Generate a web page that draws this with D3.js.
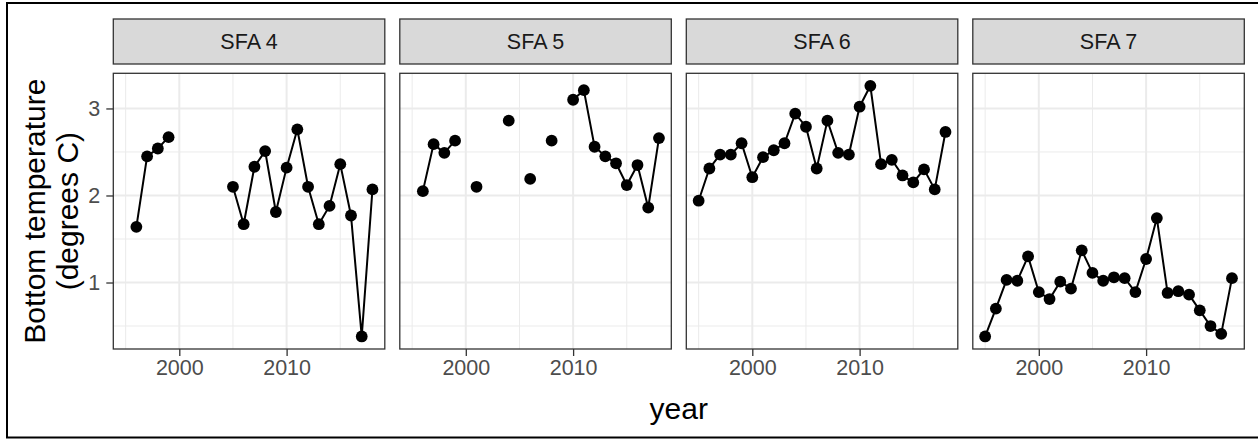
<!DOCTYPE html>
<html>
<head>
<meta charset="utf-8">
<script src="https://cdn.jsdelivr.net/npm/d3@7"></script>
<style>
  body { margin: 0; background: #fff; }
  svg { display: block; font-family: 'Liberation Sans', Arial, sans-serif; }
</style>
</head>
<body>
<div id="chart"></div>
<script>
// Bottom temperature by year, one panel per SFA
const years = [1995, 1996, 1997, 1998, 1999, 2000, 2001, 2002, 2003, 2004, 2005, 2006,
  2007, 2008, 2009, 2010, 2011, 2012, 2013, 2014, 2015, 2016, 2017, 2018]

const sfa4 = [null, 1.64, 2.45, 2.54, 2.67, null, null, null, null, null, 2.10, 1.67,
  2.33, 2.51, 1.81, 2.32, 2.76, 2.10, 1.67, 1.88, 2.36, 1.77, 0.38, 2.07]
const sfa5 = [null, 2.05, 2.59, 2.49, 2.63, null, 2.10, null, null, 2.86, null, 2.19,
  null, 2.63, null, 3.10, 3.21, 2.56, 2.45, 2.37, 2.12, 2.35, 1.86, 2.66]
const sfa6 = [1.94, 2.31, 2.47, 2.47, 2.60, 2.21, 2.44, 2.52, 2.60, 2.94, 2.79, 2.31,
  2.86, 2.49, 2.47, 3.02, 3.26, 2.36, 2.41, 2.23, 2.15, 2.30, 2.07, 2.73]
const sfa7 = [0.38, 0.70, 1.03, 1.02, 1.30, 0.89, 0.81, 1.01, 0.93, 1.37, 1.11, 1.02,
  1.06, 1.05, 0.89, 1.27, 1.74, 0.88, 0.90, 0.86, 0.68, 0.50, 0.41, 1.05]

const panelNames = ['SFA 4', 'SFA 5', 'SFA 6', 'SFA 7']
const panelValues = [sfa4, sfa5, sfa6, sfa7]
const xTicks = [2000, 2010]
const yTicks = [1, 2, 3]
const xMinor = [1995, 2005, 2015]
const yMinor = [0.5, 1.5, 2.5]

const W = 1258
const H = 439
const PANEL = { left: 113.3, top: 73.3, width: 271.5, height: 275.7, gap: 15 }
const STRIP = { top: 19, height: 45 }
const TICK_FONT = 21.5
const TITLE_FONT = 30

const svg = d3.select('#chart').append('svg')
  .attr('width', W)
  .attr('height', H)

// outer border of the plot image
svg.append('rect')
  .attr('x', 7).attr('y', 3)
  .attr('width', W + 10).attr('height', 434.5)
  .attr('fill', '#fff')
  .attr('stroke', '#000')
  .attr('stroke-width', 2)

// ggplot style 5% expansion, same scales in all panels
const allVals = panelValues.flat().filter(v => v != null)
const yMin = d3.min(allVals)
const yMax = d3.max(allVals)
const yPad = (yMax - yMin) * 0.05
const xPad = (d3.max(years) - d3.min(years)) * 0.05

const x = d3.scaleLinear()
  .domain([d3.min(years) - xPad, d3.max(years) + xPad])
  .range([0, PANEL.width])

const y = d3.scaleLinear()
  .domain([yMin - yPad, yMax + yPad])
  .range([PANEL.height, 0])

const line = d3.line()
  .defined(d => d.v != null)
  .x(d => x(d.year))
  .y(d => y(d.v))

panelNames.forEach((name, i) => {
  const left = PANEL.left + i * (PANEL.width + PANEL.gap)
  const data = years.map((yr, j) => ({ year: yr, v: panelValues[i][j] }))

  // strip
  const strip = svg.append('g').attr('transform', `translate(${left},${STRIP.top})`)
  strip.append('rect')
    .attr('width', PANEL.width)
    .attr('height', STRIP.height)
    .attr('fill', '#d9d9d9')
    .attr('stroke', '#333')
    .attr('stroke-width', 1.3)
  strip.append('text')
    .attr('x', PANEL.width / 2)
    .attr('y', STRIP.height / 2)
    .attr('dy', '0.36em')
    .attr('text-anchor', 'middle')
    .attr('font-size', TICK_FONT)
    .attr('fill', '#1a1a1a')
    .text(name)

  const g = svg.append('g').attr('transform', `translate(${left},${PANEL.top})`)

  g.append('rect')
    .attr('width', PANEL.width)
    .attr('height', PANEL.height)
    .attr('fill', '#fff')

  // minor grid
  g.selectAll('.xminor').data(xMinor).join('line')
    .attr('x1', d => x(d)).attr('x2', d => x(d))
    .attr('y1', 0).attr('y2', PANEL.height)
    .attr('stroke', '#ebebeb').attr('stroke-width', 1)
  g.selectAll('.yminor').data(yMinor).join('line')
    .attr('x1', 0).attr('x2', PANEL.width)
    .attr('y1', d => y(d)).attr('y2', d => y(d))
    .attr('stroke', '#ebebeb').attr('stroke-width', 1)

  // major grid
  g.selectAll('.xmajor').data(xTicks).join('line')
    .attr('x1', d => x(d)).attr('x2', d => x(d))
    .attr('y1', 0).attr('y2', PANEL.height)
    .attr('stroke', '#ebebeb').attr('stroke-width', 2)
  g.selectAll('.ymajor').data(yTicks).join('line')
    .attr('x1', 0).attr('x2', PANEL.width)
    .attr('y1', d => y(d)).attr('y2', d => y(d))
    .attr('stroke', '#ebebeb').attr('stroke-width', 2)

  g.append('path')
    .datum(data)
    .attr('d', line)
    .attr('fill', 'none')
    .attr('stroke', '#000')
    .attr('stroke-width', 2)

  g.selectAll('circle')
    .data(data.filter(d => d.v != null))
    .join('circle')
    .attr('cx', d => x(d.year))
    .attr('cy', d => y(d.v))
    .attr('r', 5.9)
    .attr('fill', '#000')

  g.append('rect')
    .attr('width', PANEL.width)
    .attr('height', PANEL.height)
    .attr('fill', 'none')
    .attr('stroke', '#333')
    .attr('stroke-width', 1.3)

  // x axis on every panel
  const xAxis = g.append('g')
    .attr('transform', `translate(0,${PANEL.height})`)
    .call(d3.axisBottom(x).tickValues(xTicks).tickFormat(d3.format('d')).tickSize(7).tickPadding(4))
  styleAxis(xAxis)

  // y axis only on the first one
  if (i === 0) {
    const yAxis = g.append('g')
      .call(d3.axisLeft(y).tickValues(yTicks).tickFormat(d3.format('d')).tickSize(7).tickPadding(6))
    styleAxis(yAxis)
  }
})

function styleAxis (sel) {
  sel.select('.domain').remove()
  sel.selectAll('.tick line').attr('stroke', '#333').attr('stroke-width', 1.3)
  sel.selectAll('.tick text')
    .attr('fill', '#4d4d4d')
    .attr('font-size', TICK_FONT)
    .attr('font-family', 'Liberation Sans, Arial, sans-serif')
}

// axis titles
const panelsRight = PANEL.left + 4 * PANEL.width + 3 * PANEL.gap
svg.append('text')
  .attr('x', (PANEL.left + panelsRight) / 2)
  .attr('y', 419)
  .attr('text-anchor', 'middle')
  .attr('font-size', TITLE_FONT)
  .attr('fill', '#000')
  .text('year')

const midY = PANEL.top + PANEL.height / 2
const yTitle = svg.append('text')
  .attr('transform', `translate(0,${midY}) rotate(-90)`)
  .attr('text-anchor', 'middle')
  .attr('font-size', TITLE_FONT)
  .attr('fill', '#000')
yTitle.append('tspan').attr('x', 0).attr('y', 45).text('Bottom temperature')
yTitle.append('tspan').attr('x', 0).attr('y', 78).text('(degrees C)')
</script>
</body>
</html>
